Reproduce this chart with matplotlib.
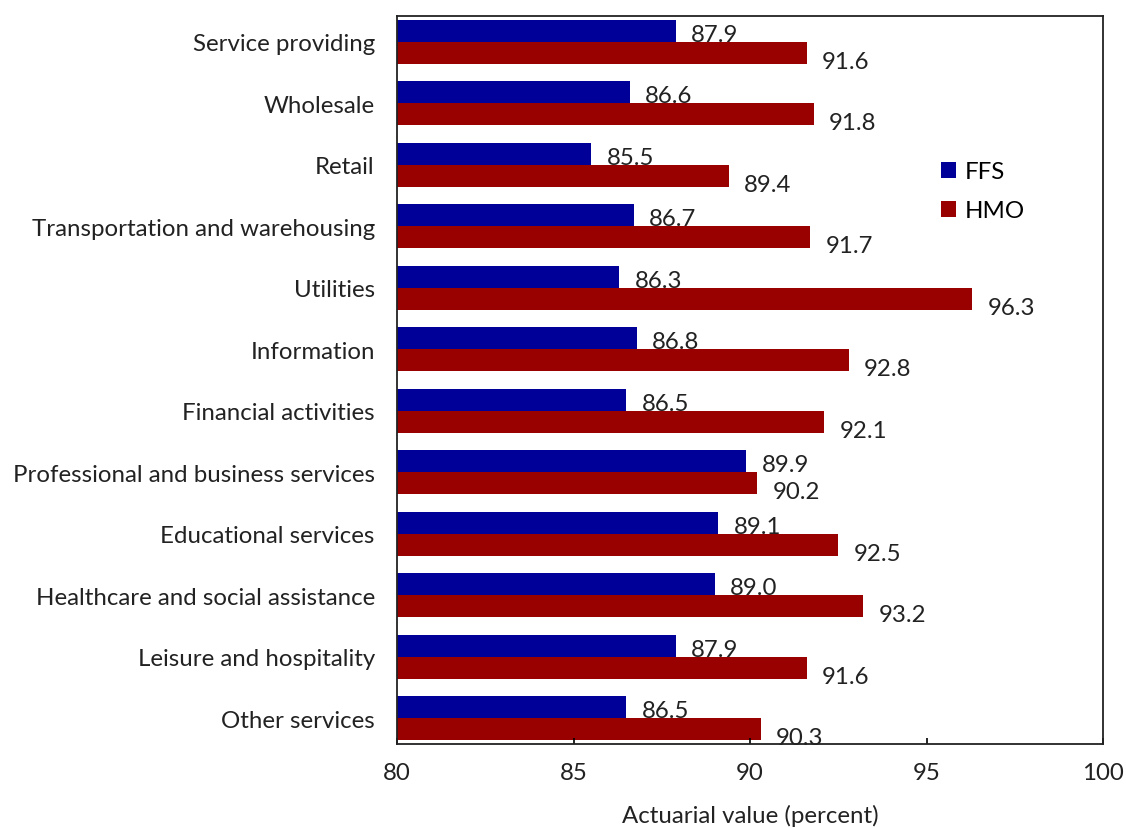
import matplotlib
matplotlib.use("Agg")
import matplotlib.pyplot as plt
import numpy as np
from matplotlib.patches import Patch

plt.rcParams['font.family'] = ['Lato', 'DejaVu Sans']

categories = [
    "Service providing",
    "Wholesale",
    "Retail",
    "Transportation and warehousing",
    "Utilities",
    "Information",
    "Financial activities",
    "Professional and business services",
    "Educational services",
    "Healthcare and social assistance",
    "Leisure and hospitality",
    "Other services",
]
ffs = [87.9, 86.6, 85.5, 86.7, 86.3, 86.8, 86.5, 89.9, 89.1, 89.0, 87.9, 86.5]
hmo = [91.6, 91.8, 89.4, 91.7, 96.3, 92.8, 92.1, 90.2, 92.5, 93.2, 91.6, 90.3]
x_ticks = [80, 85, 90, 95, 100]

BLUE = "#000099"
RED = "#990000"
TXT = "#222222"

fig = plt.figure(figsize=(11.26, 8.29), dpi=100)
ax = fig.add_axes([0.3526, 0.1013, 0.6270, 0.8782])

y = np.arange(len(categories))
h = 0.36
ax.barh(y - h / 2, [v - 80 for v in ffs], left=80, height=h, color=BLUE)
ax.barh(y + h / 2, [v - 80 for v in hmo], left=80, height=h, color=RED)

fs = 17.3
for yi, v in zip(y, ffs):
    ax.annotate(f"{v:.1f}", (v, yi - h / 2), xytext=(11, -2.5),
                textcoords="offset points", va="center", ha="left",
                fontsize=fs, color=TXT)
for yi, v in zip(y, hmo):
    ax.annotate(f"{v:.1f}", (v, yi + h / 2), xytext=(11, -6),
                textcoords="offset points", va="center", ha="left",
                fontsize=fs, color=TXT)

ax.set_xlim(80, 100)
ax.set_ylim(len(categories) - 1 + 0.42, -0.42)
ax.set_xticks(x_ticks)
ax.set_xticklabels([str(t) for t in x_ticks])
ax.set_yticks(y)
ax.set_yticklabels(categories)

ax.tick_params(axis="x", direction="in", length=4, width=1.2, pad=13,
               labelsize=fs, colors=TXT)
ax.tick_params(axis="y", length=0, pad=16, labelsize=fs, colors=TXT)
ax.tick_params(axis="both", color="black")
for s in ax.spines.values():
    s.set_linewidth(1.3)
    s.set_color(TXT)

ax.set_xlabel("Actuarial value (percent)", fontsize=fs, color=TXT,
              labelpad=15)

handles = [Patch(facecolor=BLUE, label="FFS"), Patch(facecolor=RED, label="HMO")]
ax.legend(handles=handles, loc="upper left", bbox_to_anchor=(0.74, 0.83),
          frameon=False, fontsize=fs, handlelength=0.6, handleheight=0.6,
          handletextpad=0.4, labelspacing=0.75)

fig.savefig("out.png", dpi=100)
